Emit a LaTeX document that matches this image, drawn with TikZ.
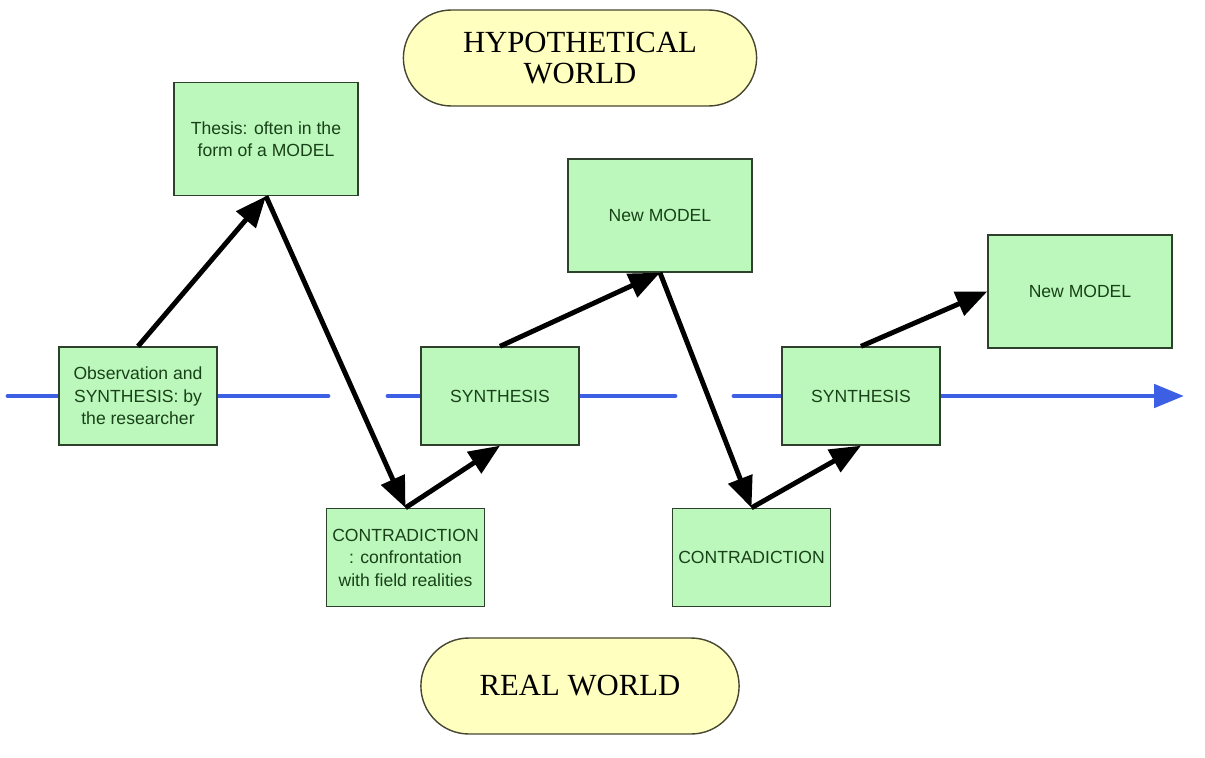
\documentclass[tikz,border=0pt]{standalone}
\usepackage{fontspec}
\setmainfont{Liberation Sans}
\newfontfamily\worldfont{Liberation Serif}
\usetikzlibrary{shapes.misc,arrows.meta,backgrounds}
\definecolor{boxgreen}{RGB}{188,248,188}
\definecolor{boxline}{RGB}{45,65,45}
\definecolor{boxtext}{RGB}{25,65,25}
\definecolor{worldfill}{RGB}{255,255,192}
\definecolor{worldline}{RGB}{70,70,50}
\definecolor{timeblue}{RGB}{60,95,228}
\begin{document}
\begin{tikzpicture}[x=0.02cm,y=-0.02cm,
    stage/.style={draw=boxline,line width=0.8pt,fill=boxgreen,text=boxtext,
      minimum width=3.16cm,minimum height=1.96cm,inner sep=1pt,align=center,
      font=\fontsize{10}{12.8}\selectfont},
    model/.style={stage,minimum width=3.68cm,minimum height=2.26cm},
    world/.style={rounded rectangle,draw=worldline,line width=0.8pt,fill=worldfill,
      minimum height=1.92cm,align=center,font=\worldfont\fontsize{17.5}{18}\selectfont},
    move/.style={line width=2.8pt,-{Triangle[length=0.62cm,width=0.5cm]}},
    timeline/.style={draw=timeblue,line width=2.8pt,line cap=round}]
      \useasboundingbox (0,0) rectangle (1205,758);
      \node[world,minimum width=7.3cm] (hyp) at (580,58) {HYPOTHETICAL\\WORLD};
      \node[world,minimum width=6.6cm] (real) at (580,686) {REAL WORLD};
      \node[stage] (obs) at (138,396) {Observation and\\SYNTHESIS: by\\the researcher};
      \node[model] (thesis) at (266,139) {Thesis: often in the\\form of a MODEL};
      \node[stage] (con1) at (405.5,557.5) {CONTRADICTION\\: confrontation\\with field realities};
      \node[stage] (syn1) at (500,396) {SYNTHESIS};
      \node[model] (nm1) at (660,215.5) {New MODEL};
      \node[stage] (con2) at (751.5,557.5) {CONTRADICTION};
      \node[stage] (syn2) at (861,396) {SYNTHESIS};
      \node[model] (nm2) at (1080,291.5) {New MODEL};
      \coordinate (t0) at (8,396);
      \coordinate (t1) at (328,396);
      \coordinate (t2) at (388,396);
      \coordinate (t3) at (675,396);
      \coordinate (t4) at (734,396);
      \coordinate (t5) at (1184,396);
      \begin{scope}[on background layer]
        \draw[timeline] (t0) to (obs.west);
        \draw[timeline] (obs.east) to (t1);
        \draw[timeline] (t2) to (syn1.west);
        \draw[timeline] (syn1.east) to (t3);
        \draw[timeline] (t4) to (syn2.west);
        \draw[timeline,fill=timeblue,-{Triangle[length=0.6cm,width=0.46cm]}] (syn2.east) to (t5);
      \end{scope}
      \begin{scope}[move]
        \draw (obs.north) to (thesis.south);
        \draw (thesis.south) to (con1.north);
        \draw (con1.north) to (syn1.south);
        \draw (syn1.north) to (nm1.south);
        \draw (nm1.south) to (con2.north);
        \draw (con2.north) to (syn2.south);
        \draw (syn2.north) to (nm2.west);
      \end{scope}
    \end{tikzpicture}
\end{document}
